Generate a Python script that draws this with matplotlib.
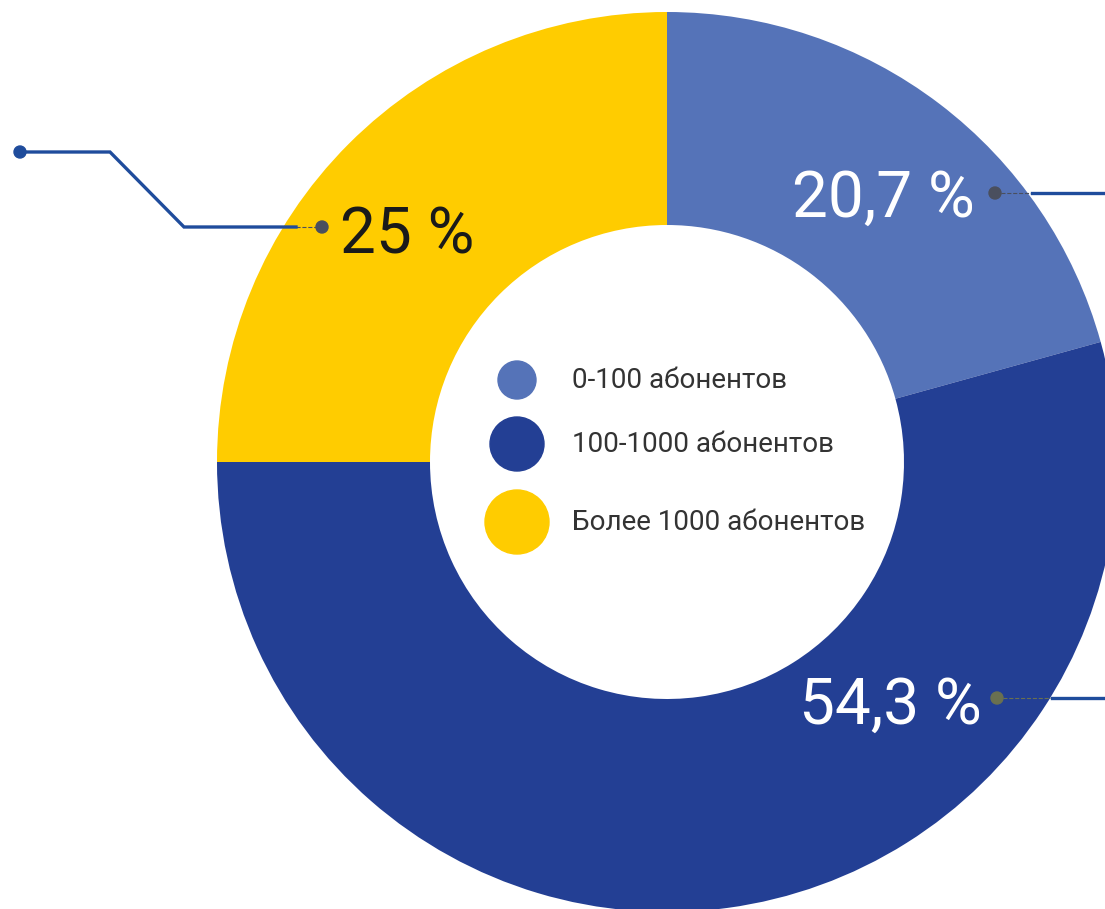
import matplotlib.pyplot as plt
from matplotlib.patches import Circle

# shares of operators by subscriber count
categories = ["0-100 абонентов", "100-1000 абонентов", "Более 1000 абонентов"]
values = [20.7, 54.3, 25.0]
pct_labels = ["20,7 %", "54,3 %", "25 %"]

# colours
light_blue = "#5573B8"
dark_blue = "#233F94"
yellow = "#FFCC00"
line_blue = "#1F4C9C"
dot_grey = "#4A4F5E"
colors = [light_blue, dark_blue, yellow]

font = ["Roboto", "DejaVu Sans"]

fig = plt.figure(figsize=(11.05, 9.09), dpi=100)
ax = fig.add_axes([0, 0, 1, 1])

# donut (pixel coordinates, y axis points down)
cx, cy, r_out, r_in = 667, 462, 450, 237
ax.pie(values, colors=colors, startangle=270, counterclock=True,
       center=(cx, cy), radius=r_out, frame=True,
       wedgeprops=dict(width=r_out - r_in, linewidth=0))

ax.set_xlim(0, 1105)
ax.set_ylim(909, 0)
ax.set_aspect("equal", adjustable="box")
ax.axis("off")

# percentage labels
ax.text(792, 192, pct_labels[0], color="white", fontsize=46, family=font,
        ha="left", va="center_baseline")
ax.text(799, 699, pct_labels[1], color="white", fontsize=46, family=font,
        ha="left", va="center_baseline")
ax.text(340, 229, pct_labels[2], color="#1A1A1A", fontsize=46, family=font,
        ha="left", va="center_baseline")

# connector lines
ax.plot([995, 1032], [193, 193], color=dot_grey, lw=0.8, ls="--")
ax.plot([1032, 1105], [193, 193], color=line_blue, lw=2.4)
ax.plot([997, 1052], [698, 698], color="#6A7050", lw=0.8, ls="--")
ax.plot([1052, 1105], [698, 698], color=line_blue, lw=2.4)
ax.plot([296, 322], [227, 227], color=dot_grey, lw=0.8, ls="--")
ax.plot([296, 184, 110, 20], [227, 227, 152, 152], color=line_blue, lw=2.4,
        solid_joinstyle="miter")
ax.add_patch(Circle((20, 152), 6, color=line_blue, zorder=5))
ax.add_patch(Circle((995, 193), 6, color=dot_grey, zorder=5))
ax.add_patch(Circle((997, 698), 6, color="#6A7050", zorder=5))
ax.add_patch(Circle((322, 227), 6, color=dot_grey, zorder=5))

# legend inside the hole
leg_y = [380, 444, 522]
leg_r = [19, 27, 32]
for name, col, y, rr in zip(categories, colors, leg_y, leg_r):
    ax.add_patch(Circle((517, y), rr, color=col, zorder=5))
    ax.text(572, y + 1, name, color="#333333", fontsize=20, family=font,
            ha="left", va="center")

plt.savefig("out.png", dpi=100, facecolor="white")
